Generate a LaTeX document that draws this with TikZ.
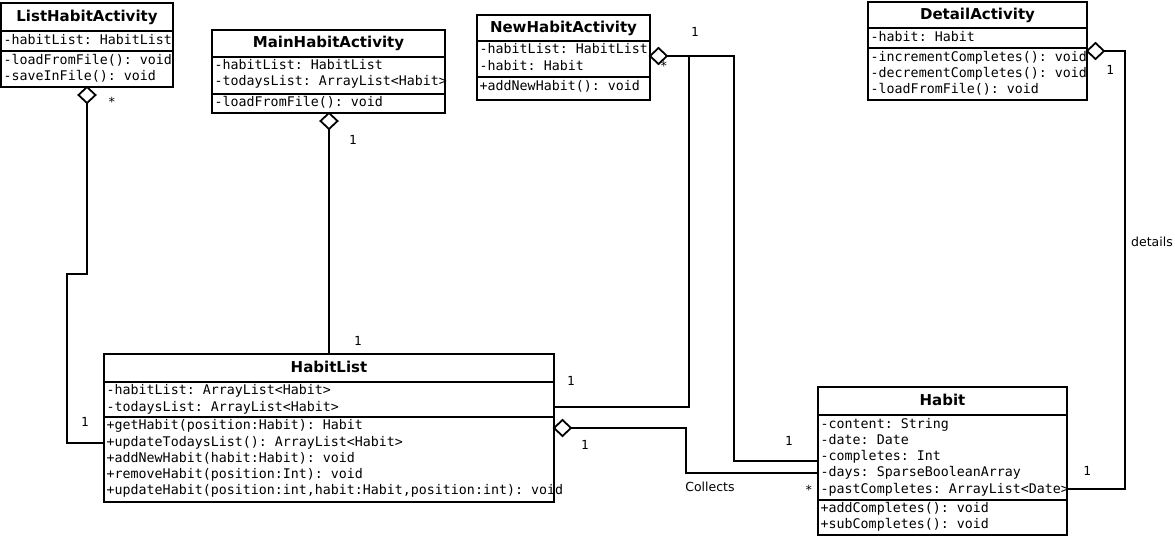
\documentclass[tikz,border=0pt]{standalone}
\usepackage{fontspec}
\setmainfont{DejaVu Sans}
\setsansfont{DejaVu Sans}
\setmonofont{DejaVu Sans Mono}
\usetikzlibrary{shapes.geometric}
\tikzset{
 cls/.style={draw, line width=1.8pt, outer sep=0pt, inner sep=0pt, anchor=north west},
 ttl/.style={font=\fontsize{15}{18}\selectfont\sffamily\bfseries, inner sep=0pt, text height=11pt, text depth=3pt},
 mem/.style={font=\fontsize{13.3}{16}\selectfont\ttfamily, inner sep=0pt, anchor=west, xshift=2.5pt, text height=9.5pt, text depth=3pt},
 sepline/.style={line width=1.8pt},
 conn/.style={line width=1.8pt},
 agg/.style={diamond, draw, line width=1.8pt, fill=white, inner sep=0pt, outer sep=0pt, minimum width=17pt, minimum height=16pt},
 mult/.style={font=\fontsize{12.5}{15}\selectfont\ttfamily, inner sep=0pt, text height=9pt, text depth=0pt},
 lbl/.style={font=\fontsize{12.5}{15}\selectfont\sffamily, inner sep=0pt},
}
\begin{document}
\begin{tikzpicture}[x=1pt,y=-1pt]
\useasboundingbox[fill=white] (0,0) rectangle (1175,536);

% ---------- ListHabitActivity ----------
\node[cls, minimum width=172pt, minimum height=84pt] (lha) at (1,3) {};
\draw[sepline] (lha.west |- 0,31) -- (lha.east |- 0,31);
\draw[sepline] (lha.west |- 0,51) -- (lha.east |- 0,51);
\node[ttl] (lhaT) at (lha.north |- 0,17) {ListHabitActivity};
\node[mem] (lhaA1) at (lha.west |- 0,41) {-habitList: HabitList};
\node[mem] (lhaM1) at (lha.west |- 0,61) {-loadFromFile(): void};
\node[mem] (lhaM2) at (lha.west |- 0,77) {-saveInFile(): void};

% ---------- MainHabitActivity ----------
\node[cls, minimum width=233pt, minimum height=83pt] (mha) at (212,30) {};
\draw[sepline] (mha.west |- 0,57) -- (mha.east |- 0,57);
\draw[sepline] (mha.west |- 0,94) -- (mha.east |- 0,94);
\node[ttl] (mhaT) at (mha.north |- 0,43) {MainHabitActivity};
\node[mem] (mhaA1) at (mha.west |- 0,66) {-habitList: HabitList};
\node[mem] (mhaA2) at (mha.west |- 0,82) {-todaysList: ArrayList<Habit>};
\node[mem] (mhaM1) at (mha.west |- 0,103) {-loadFromFile(): void};

% ---------- NewHabitActivity ----------
\node[cls, minimum width=173pt, minimum height=85pt] (nha) at (477,15) {};
\draw[sepline] (nha.west |- 0,41) -- (nha.east |- 0,41);
\draw[sepline] (nha.west |- 0,77) -- (nha.east |- 0,77);
\node[ttl] (nhaT) at (nha.north |- 0,28) {NewHabitActivity};
\node[mem] (nhaA1) at (nha.west |- 0,50) {-habitList: HabitList};
\node[mem] (nhaA2) at (nha.west |- 0,67) {-habit: Habit};
\node[mem] (nhaM1) at (nha.west |- 0,87) {+addNewHabit(): void};

% ---------- DetailActivity ----------
\node[cls, minimum width=219pt, minimum height=98pt] (da) at (868,2) {};
\draw[sepline] (da.west |- 0,28) -- (da.east |- 0,28);
\draw[sepline] (da.west |- 0,48) -- (da.east |- 0,48);
\node[ttl] (daT) at (da.north |- 0,15) {DetailActivity};
\node[mem] (daA1) at (da.west |- 0,38) {-habit: Habit};
\node[mem] (daM1) at (da.west |- 0,58) {-incrementCompletes(): void};
\node[mem] (daM2) at (da.west |- 0,74) {-decrementCompletes(): void};
\node[mem] (daM3) at (da.west |- 0,90) {-loadFromFile(): void};

% ---------- HabitList ----------
\node[cls, minimum width=450pt, minimum height=148pt] (hl) at (104,354) {};
\draw[sepline] (hl.west |- 0,382) -- (hl.east |- 0,382);
\draw[sepline] (hl.west |- 0,417) -- (hl.east |- 0,417);
\node[ttl] (hlT) at (hl.north |- 0,368) {HabitList};
\node[mem] (hlA1) at (hl.west |- 0,391) {-habitList: ArrayList<Habit>};
\node[mem] (hlA2) at (hl.west |- 0,408) {-todaysList: ArrayList<Habit>};
\node[mem] (hlM1) at (hl.west |- 0,426) {+getHabit(position:Habit): Habit};
\node[mem] (hlM2) at (hl.west |- 0,443) {+updateTodaysList(): ArrayList<Habit>};
\node[mem] (hlM3) at (hl.west |- 0,459) {+addNewHabit(habit:Habit): void};
\node[mem] (hlM4) at (hl.west |- 0,475) {+removeHabit(position:Int): void};
\node[mem] (hlM5) at (hl.west |- 0,491) {+updateHabit(position:int,habit:Habit,position:int): void};

% ---------- Habit ----------
\node[cls, minimum width=249pt, minimum height=148pt] (h) at (818,387) {};
\draw[sepline] (h.west |- 0,415) -- (h.east |- 0,415);
\draw[sepline] (h.west |- 0,500) -- (h.east |- 0,500);
\node[ttl] (hT) at (h.north |- 0,401) {Habit};
\node[mem] (hA1) at (h.west |- 0,425) {-content: String};
\node[mem] (hA2) at (h.west |- 0,441) {-date: Date};
\node[mem] (hA3) at (h.west |- 0,457) {-completes: Int};
\node[mem] (hA4) at (h.west |- 0,473) {-days: SparseBooleanArray};
\node[mem] (hA5) at (h.west |- 0,490) {-pastCompletes: ArrayList<Date>};
\node[mem] (hM1) at (h.west |- 0,509) {+addCompletes(): void};
\node[mem] (hM2) at (h.west |- 0,525) {+subCompletes(): void};

% ---------- aggregation diamonds ----------
\node[agg, anchor=north] (dl) at (lha.south -| 87,0) {};
\node[agg, anchor=north] (dm) at (mha.south -| 329,0) {};
\node[agg, anchor=west] (dn) at (nha.east |- 0,56) {};
\node[agg, anchor=west] (dh) at (hl.east |- 0,428) {};
\node[agg, anchor=west] (dd) at (da.east |- 0,51) {};

% ---------- connectors ----------
\draw[conn] (dl.south) -- (87,274) -- (67,274) |- (hl.west |- 0,443);
\draw[conn] (dm.south) -- (dm.south |- hl.north);
\draw[conn] (dn.east) -| (689,407) -- (hl.east |- 0,407);
\draw[conn] (dn.east) -| (734,461) -- (h.west |- 0,461);
\draw[conn] (dh.east) -| (686,473) -- (h.west |- 0,473);
\draw[conn] (dd.east) -| (1125,489) -- (h.east |- 0,489);

% ---------- multiplicities and labels ----------
\node[mult] (m1) at (112,102) {*};
\node[mult] (m2) at (85,422) {1};
\node[mult] (m3) at (353,140) {1};
\node[mult] (m4) at (358,341) {1};
\node[mult] (m5) at (664,66) {*};
\node[mult] (m6) at (695,32) {1};
\node[mult] (m7) at (571,381) {1};
\node[mult] (m8) at (789,441) {1};
\node[mult] (m9) at (585,445) {1};
\node[lbl] (l1) at (710,487) {Collects};
\node[mult] (m10) at (809,490) {*};
\node[mult] (m11) at (1110,70) {1};
\node[lbl] (l2) at (1152,242) {details};
\node[mult] (m12) at (1087,471) {1};
\end{tikzpicture}
\end{document}
